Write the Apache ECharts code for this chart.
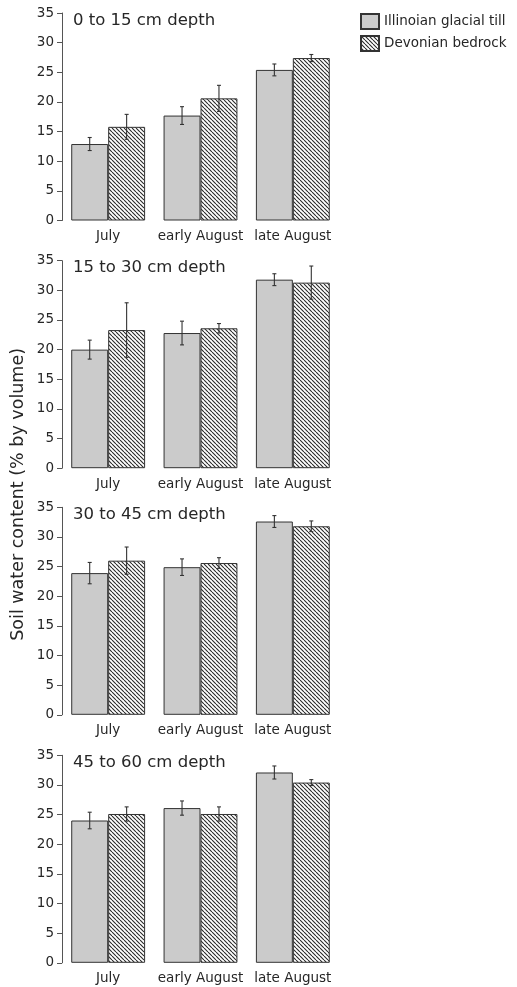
<!DOCTYPE html>
<html>
<head>
<meta charset="utf-8">
<script src="https://cdn.jsdelivr.net/npm/echarts@6/dist/echarts.min.js"></script>
<style>
html,body{margin:0;padding:0;background:#fff;}
#chart{width:517px;height:987px;}
</style>
</head>
<body>
<div id="chart"></div>
<script>
// ---- data ----
var categories = ['July', 'early August', 'late August'];
var panelTitles = ['0 to 15 cm depth', '15 to 30 cm depth', '30 to 45 cm depth', '45 to 60 cm depth'];
var seriesNames = ['Illinoian glacial till', 'Devonian bedrock'];
var yTicks = [0, 5, 10, 15, 20, 25, 30, 35];

var ill_0_15 = [12.9, 17.7, 25.4];
var ill_0_15_err = [1.1, 1.5, 1.0];
var dev_0_15 = [15.8, 20.6, 27.4];
var dev_0_15_err = [2.1, 2.2, 0.6];

var ill_15_30 = [20.0, 22.8, 31.8];
var ill_15_30_err = [1.6, 2.0, 1.0];
var dev_15_30 = [23.3, 23.6, 31.3];
var dev_15_30_err = [4.6, 0.8, 2.8];

var ill_30_45 = [23.9, 24.9, 32.6];
var ill_30_45_err = [1.8, 1.4, 1.0];
var dev_30_45 = [26.0, 25.6, 31.8];
var dev_30_45_err = [2.3, 0.9, 0.9];

var ill_45_60 = [24.0, 26.1, 32.1];
var ill_45_60_err = [1.4, 1.2, 1.1];
var dev_45_60 = [25.1, 25.1, 30.4];
var dev_45_60_err = [1.2, 1.2, 0.5];

var illData = [ill_0_15, ill_15_30, ill_30_45, ill_45_60];
var illErr = [ill_0_15_err, ill_15_30_err, ill_30_45_err, ill_45_60_err];
var devData = [dev_0_15, dev_15_30, dev_30_45, dev_45_60];
var devErr = [dev_0_15_err, dev_15_30_err, dev_30_45_err, dev_45_60_err];

// ---- styles ----
var FONT = 'DejaVu Sans';
var TEXT = '#262626';
var gridTops = [13, 260.7, 507.3, 755.3];
var gridH = 207.5;
var gridLeft = 62;
var gridW = 277;

function hatch() {
  var s = 4;
  var c = document.createElement('canvas');
  c.width = s; c.height = s;
  var ctx = c.getContext('2d');
  ctx.fillStyle = '#ffffff';
  ctx.fillRect(0, 0, s, s);
  ctx.strokeStyle = '#2a2a2a';
  ctx.lineWidth = 1.1;
  ctx.beginPath();
  for (var i = -s; i <= s; i += s) {
    ctx.moveTo(i, 0);
    ctx.lineTo(i + s, s);
  }
  ctx.stroke();
  return c;
}
var hatchPattern = { image: hatch(), repeat: 'repeat' };

var grids = [], xAxes = [], yAxes = [], series = [], titles = [];

function errSeries(idx, vals, errs, side) {
  var d = vals.map(function (v, i) { return [i, v, errs[i]]; });
  return {
    type: 'custom',
    xAxisIndex: idx, yAxisIndex: idx,
    silent: true,
    z: 10,
    data: d,
    renderItem: function (params, api) {
      var i = api.value(0), v = api.value(1), e = api.value(2);
      var band = api.size([1, 0])[0];
      var cx = api.coord([i, v])[0] + side * band * 0.2;
      var yTop = api.coord([i, v + e])[1];
      var yBot = api.coord([i, v - e])[1];
      var cap = 2;
      var st = { stroke: '#333', lineWidth: 1.1 };
      return {
        type: 'group',
        children: [
          { type: 'line', shape: { x1: cx, y1: yTop, x2: cx, y2: yBot }, style: st },
          { type: 'line', shape: { x1: cx - cap, y1: yTop, x2: cx + cap, y2: yTop }, style: st },
          { type: 'line', shape: { x1: cx - cap, y1: yBot, x2: cx + cap, y2: yBot }, style: st }
        ]
      };
    }
  };
}

for (var p = 0; p < 4; p++) {
  grids.push({ left: gridLeft, top: gridTops[p], width: gridW, height: gridH });
  xAxes.push({
    type: 'category', gridIndex: p, data: categories,
    axisLine: { show: false }, axisTick: { show: false },
    axisLabel: { interval: 0, color: TEXT, fontFamily: FONT, fontSize: 13.5, margin: 9 }
  });
  yAxes.push({
    type: 'value', gridIndex: p, min: 0, max: 35, interval: 5,
    axisLine: { show: true, lineStyle: { color: '#555', width: 1 } },
    axisTick: { show: true, length: 5, lineStyle: { color: '#555' } },
    splitLine: { show: false },
    axisLabel: { color: TEXT, fontFamily: FONT, fontSize: 13.5, margin: 8,
      formatter: function (v) { return yTicks.indexOf(v) >= 0 ? String(v) : ''; } }
  });
  series.push({
    name: seriesNames[0], type: 'bar', xAxisIndex: p, yAxisIndex: p,
    data: illData[p], barWidth: '40%', barGap: '0%',
    itemStyle: { color: '#cbcbcb', borderColor: '#333', borderWidth: 1 }
  });
  series.push({
    name: seriesNames[1], type: 'bar', xAxisIndex: p, yAxisIndex: p,
    data: devData[p], barWidth: '40%', barGap: '0%',
    itemStyle: { color: hatchPattern, borderColor: '#333', borderWidth: 1 }
  });
  series.push(errSeries(p, illData[p], illErr[p], -1));
  series.push(errSeries(p, devData[p], devErr[p], 1));
  titles.push({
    text: panelTitles[p], left: 68, top: gridTops[p] - 6,
    textStyle: { color: TEXT, fontFamily: FONT, fontSize: 16.5, fontWeight: 'normal' }
  });
}

var chart = echarts.init(document.getElementById('chart'), null, { renderer: 'canvas' });
chart.setOption({
  animation: false,
  backgroundColor: '#ffffff',
  title: titles,
  legend: {
    data: seriesNames, orient: 'vertical', left: 355, top: 8,
    itemWidth: 18, itemHeight: 15, itemGap: 5, icon: 'rect',
    textStyle: { color: TEXT, fontFamily: FONT, fontSize: 13.5 }, selectedMode: false
  },
  grid: grids,
  xAxis: xAxes,
  yAxis: yAxes,
  series: series,
  graphic: [{
    type: 'text', left: 9, top: 348, rotation: Math.PI / 2,
    style: { text: 'Soil water content (% by volume)', fill: TEXT, font: '17.5px "DejaVu Sans"' }
  }]
});
</script>
</body>
</html>
